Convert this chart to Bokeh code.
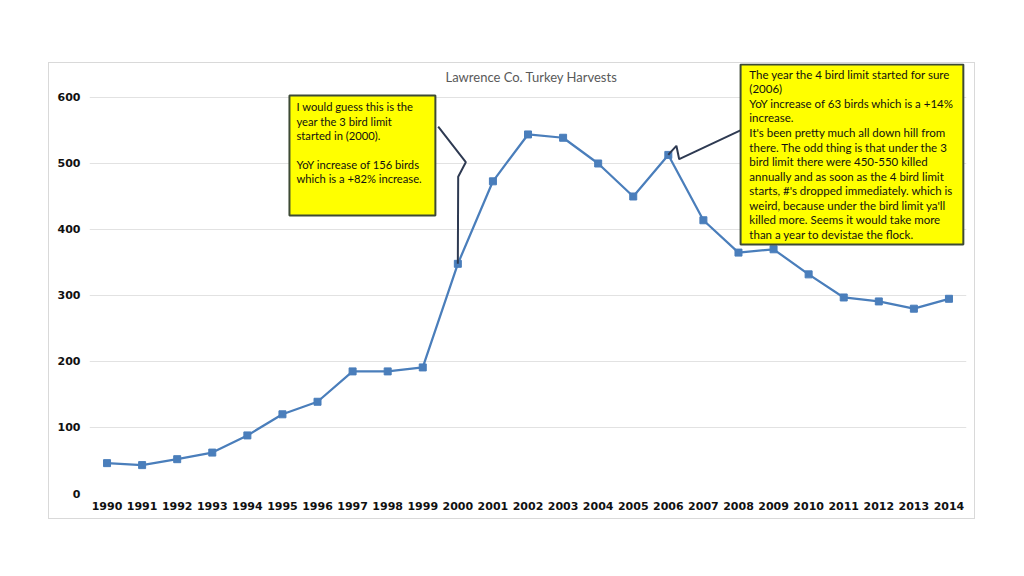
from bokeh.plotting import figure
from bokeh.models import Range1d, FixedTicker, ColumnDataSource
from bokeh.core.properties import value
from bokeh.embed import file_html
from bokeh.resources import INLINE

# ---- data ----
years = [1990, 1991, 1992, 1993, 1994, 1995, 1996, 1997, 1998, 1999, 2000, 2001,
         2002, 2003, 2004, 2005, 2006, 2007, 2008, 2009, 2010, 2011, 2012, 2013, 2014]
harvest = [46, 43, 52, 62, 88, 120, 139, 185, 185, 191, 348, 473,
           544, 539, 500, 450, 513, 414, 365, 370, 332, 297, 291, 280, 295]
y_ticks = [0, 100, 200, 300, 400, 500, 600]
title_text = "Lawrence Co. Turkey Harvests"
note_2000 = ("I would guess this is the\nyear the 3 bird limit\nstarted in (2000).\n\n"
             "YoY increase of 156 birds\nwhich is a +82% increase.")
note_2006 = ("The year the 4 bird limit started for sure\n(2006)\n"
             "YoY increase of 63 birds which is a +14%\nincrease.\n"
             "It's been pretty much all down hill from\nthere. The odd thing is that under the 3\n"
             "bird limit there were 450-550 killed\nannually and as soon as the 4 bird limit\n"
             "starts, #'s dropped immediately.  which is\nweird, because under the bird limit ya'll\n"
             "killed more. Seems it would take more\nthan a year to devistae the flock.")

LINE = "#4a7ebb"
BOX_BORDER = "#3d4a35"
POINTER = "#2e3a52"

p = figure(width=927, height=457, output_backend="svg", toolbar_location=None,
           x_range=Range1d(1989.5, 2014.5), y_range=Range1d(0, 651.5),
           min_border_left=40, min_border_right=10, min_border_top=0, min_border_bottom=27)
p.margin = (62, 0, 0, 48)
p.styles = {"border": "1px solid #d9d9d9"}
p.outline_line_color = None
p.background_fill_color = "white"
p.border_fill_color = "white"

# axes
p.xaxis.ticker = FixedTicker(ticks=years)
p.yaxis.ticker = FixedTicker(ticks=y_ticks)
for ax in (p.xaxis[0], p.yaxis[0]):
    ax.axis_line_color = None
    ax.major_tick_line_color = None
    ax.minor_tick_line_color = None
    ax.major_tick_out = 0
    ax.major_tick_in = 0
    ax.major_label_text_font = "DejaVu Sans"
    ax.major_label_text_font_style = "bold"
    ax.major_label_text_font_size = "11px"
    ax.major_label_text_color = "#111111"
p.xaxis.major_label_standoff = 8
p.yaxis.major_label_standoff = 9
p.xgrid.grid_line_color = None
p.ygrid.grid_line_color = "#e2e2e2"
p.ygrid.grid_line_width = 1

# data series
src = ColumnDataSource(dict(year=years, harvest=harvest))
p.line("year", "harvest", source=src, line_color=LINE, line_width=2.25)
p.scatter("year", "harvest", source=src, marker="square", size=7,
          fill_color=LINE, line_color=LINE)

# title
p.text(x=[2002.1], y=[631.8], text=[title_text], text_font=value("Lato"),
       text_font_size="13px", text_color="#595959", text_align="center",
       text_baseline="middle")

# callout 1 (year 2000)
i2000 = years.index(2000)
x0 = years[i2000]
y0 = harvest[i2000]
p.line(x=[x0 - 0.56, x0 + 0.227, x0 + 0.01, x0], y=[556, 502, 480, y0],
       line_color=POINTER, line_width=2)
p.quad(left=[1995.20], right=[1999.36], top=[603], bottom=[421.2],
       fill_color="#ffff00", line_color=BOX_BORDER, line_width=2)
p.text(x=[1995.40], y=[596], text=[note_2000], text_font=value("Lato"),
       text_font_size="11.2px", text_color="#111111", text_align="left",
       text_baseline="top", text_line_height=1.11)

# callout 2 (year 2006)
i2006 = years.index(2006)
x1 = years[i2006]
y1 = harvest[i2006]
p.line(x=[x1 + 2.086, x1 + 0.31, x1 + 0.23, x1 + 0.04, x1], y=[551, 506.5, 526.8, 515.6, y1],
       line_color=POINTER, line_width=2)
p.quad(left=[2008.06], right=[2014.41], top=[650], bottom=[377.3],
       fill_color="#ffff00", line_color=BOX_BORDER, line_width=2)
p.text(x=[2008.31], y=[645], text=[note_2006], text_font=value("Lato"),
       text_font_size="11.5px", text_color="#111111", text_align="left",
       text_baseline="top", text_line_height=1.12)

open("out.html", "w").write(file_html(p, INLINE))
